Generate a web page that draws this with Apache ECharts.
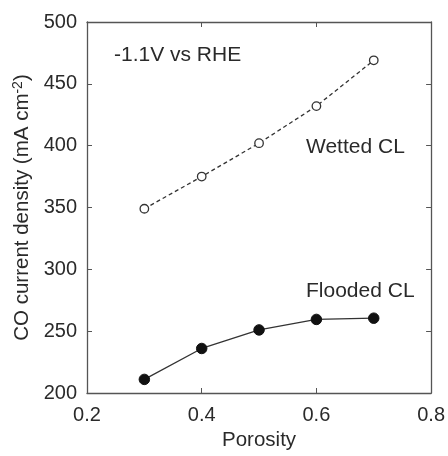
<!DOCTYPE html>
<html><head><meta charset="utf-8">
<script src="https://cdn.jsdelivr.net/npm/echarts@6/dist/echarts.min.js"></script>
<style>html,body{margin:0;padding:0;background:#fff}#c{width:448px;height:456px}</style>
</head><body><div id="c"></div>
<script>
const porosity = [0.3, 0.4, 0.5, 0.6, 0.7];
const wetted = [349, 375, 402, 432, 469];
const flooded = [211, 236, 251, 259.5, 260.5];
const xTicks = [0.2, 0.4, 0.6, 0.8];
const yTicks = [200, 250, 300, 350, 400, 450, 500];

const font = 'Liberation Sans, Arial, sans-serif';
const axisCol = '#555';
const txtCol = '#2a2a2a';
const chart = echarts.init(document.getElementById('c'));
const baseX = {type:'value', min:xTicks[0], max:xTicks[xTicks.length-1], interval:0.2,
  axisLine:{show:true, lineStyle:{color:axisCol, width:1.3}},
  axisTick:{show:true, inside:true, length:5, lineStyle:{color:axisCol}},
  splitLine:{show:false}};
const baseY = {type:'value', min:yTicks[0], max:yTicks[yTicks.length-1], interval:50,
  axisLine:{show:true, lineStyle:{color:axisCol, width:1.3}},
  axisTick:{show:true, inside:true, length:5, lineStyle:{color:axisCol}},
  splitLine:{show:false}};
chart.setOption({
  animation:false,
  grid:{left:87, right:16, top:22, bottom:61},
  xAxis:[
    Object.assign({}, baseX, {position:'bottom', name:'Porosity', nameLocation:'middle', nameGap:37,
      nameTextStyle:{fontFamily:font, fontSize:20.5, color:txtCol},
      axisLabel:{fontFamily:font, fontSize:20, color:txtCol, margin:12, formatter:v=>v.toFixed(1)}}),
    Object.assign({}, baseX, {position:'top', axisLabel:{show:false}})
  ],
  yAxis:[
    Object.assign({}, baseY, {position:'left',
      name:'{a|CO current density (mA cm}{s|-2}{a|)}', nameLocation:'middle', nameRotate:90, nameGap:45,
      nameTextStyle:{rich:{a:{fontFamily:font, fontSize:20.5, color:txtCol}, s:{fontFamily:font, fontSize:14, color:txtCol, verticalAlign:'top', padding:[0,0,9,0]}}},
      axisLabel:{fontFamily:font, fontSize:20, color:txtCol, margin:10}}),
    Object.assign({}, baseY, {position:'right', axisLabel:{show:false}})
  ],
  series:[
    {type:'line', data:porosity.map((x,i)=>[x,wetted[i]]), symbol:'circle', symbolSize:8.5,
      itemStyle:{color:'#fff', borderColor:'#333', borderWidth:1.3},
      lineStyle:{color:'#333', width:1.3, type:[4,3]}},
    {type:'line', data:porosity.map((x,i)=>[x,flooded[i]]), symbol:'circle', symbolSize:10.5,
      itemStyle:{color:'#111', borderColor:'#111'},
      lineStyle:{color:'#333', width:1.3}}
  ],
  graphic:[
    {type:'text', left:114, top:45, style:{text:'-1.1V vs RHE', font:'21px '+font, fill:txtCol}},
    {type:'text', left:306, top:137, style:{text:'Wetted CL', font:'21px '+font, fill:txtCol}},
    {type:'text', left:306, top:281, style:{text:'Flooded CL', font:'21px '+font, fill:txtCol}}
  ]
});
</script></body></html>
